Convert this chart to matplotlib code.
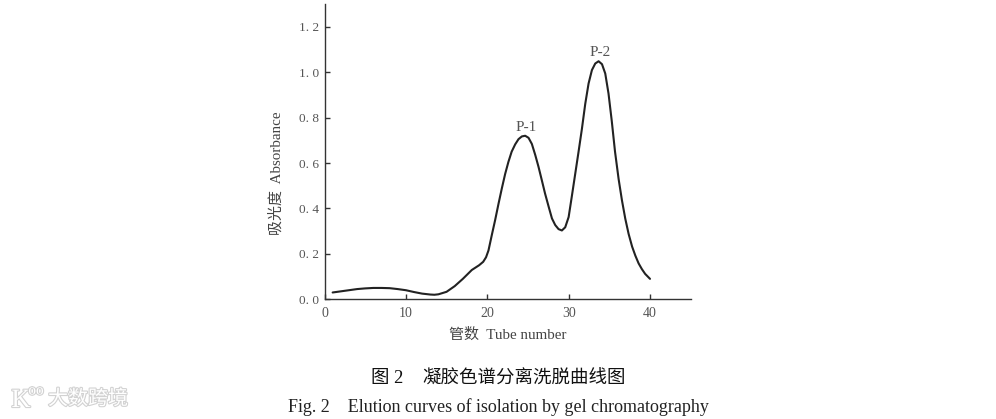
import matplotlib
matplotlib.use('Agg')
import matplotlib.pyplot as plt
import matplotlib.patheffects as pe

plt.rcParams['font.family'] = ['Liberation Serif', 'Noto Sans CJK SC', 'DejaVu Sans']

# curve
tube = [1, 2, 3, 4, 5, 6, 7, 8, 9, 10, 11, 12, 13, 13.5, 14, 15, 16, 17, 18.1, 19, 19.5,
        19.85, 20.15, 20.56, 20.97, 21.38, 21.79, 22.2, 22.6, 23.0, 23.43, 23.84, 24.25,
        24.66, 25.07, 25.48, 25.9, 26.3, 26.7, 27.1, 27.55, 27.95, 28.35, 28.76, 29.17,
        29.58, 30.0, 30.4, 30.8, 31.2, 31.63, 32.04, 32.45, 32.86, 33.27, 33.68, 34.1,
        34.5, 34.9, 35.3, 35.7, 36.14, 36.55, 36.96, 37.37, 37.8, 38.2, 38.6, 39.0, 39.4, 40]
absorb = [0.030, 0.035, 0.040, 0.045, 0.048, 0.050, 0.050, 0.049, 0.045, 0.040, 0.032,
          0.025, 0.021, 0.020, 0.022, 0.033, 0.058, 0.090, 0.129, 0.150, 0.165,
          0.185, 0.215, 0.283, 0.349, 0.420, 0.488, 0.552, 0.605, 0.650, 0.682, 0.705, 0.717,
          0.720, 0.711, 0.684, 0.635, 0.583, 0.525, 0.466, 0.407, 0.356, 0.327, 0.309, 0.303,
          0.317, 0.362, 0.455, 0.550, 0.645, 0.750, 0.860, 0.950, 1.009, 1.038, 1.048, 1.035,
          0.994, 0.906, 0.785, 0.650, 0.530, 0.436, 0.355, 0.288, 0.232, 0.192, 0.158, 0.133, 0.112, 0.090]
x_ticks = [0, 10, 20, 30, 40]
y_ticks = [0.0, 0.2, 0.4, 0.6, 0.8, 1.0, 1.2]
y_labels = ['0. 0', '0. 2', '0. 4', '0. 6', '0. 8', '1. 0', '1. 2']
peaks = ['P-1', 'P-2']
peak_x = [24.66, 33.68]
peak_y = [0.72, 1.048]

W, H = 996, 419
fig = plt.figure(figsize=(W / 100, H / 100), dpi=100)
ax = fig.add_axes([324.5 / W, (H - 299.3) / H, 366.2 / W, 295.3 / H])

ax.plot(tube, absorb, color='#222222', lw=1.5, solid_capstyle='round', solid_joinstyle='round')

ax.set_xlim(0, 45)
ax.set_ylim(0, 1.3)
ax.set_xticks(x_ticks)
ax.set_yticks(y_ticks)
ax.set_yticklabels(y_labels)
ax.tick_params(direction='in', length=3.8, width=1, color='#333333',
               labelsize=9.5, labelcolor='#555555', pad=4)
ax.tick_params(axis='x', labelsize=10, pad=5.5)
for side in ['top', 'right']:
    ax.spines[side].set_visible(False)
for side in ['left', 'bottom']:
    ax.spines[side].set_color('#333333')
    ax.spines[side].set_linewidth(1)

for name, px, py in zip(peaks, peak_x, peak_y):
    ax.annotate(name, (px, py), xytext=(1, 6), textcoords='offset points',
                ha='center', va='center', fontsize=11, color='#555555')

fig.text(507.7 / W, (H - 335) / H, '管数  Tube number', ha='center', va='center',
         fontsize=10.8, color='#444444')
fig.text(276 / W, (H - 173) / H, '吸光度  Absorbance', rotation=90, ha='center',
         va='center', fontsize=10.8, color='#444444')

fig.text(371 / W, (H - 378.7) / H, '图 2', ha='left', va='center', fontsize=13.3, color='#111111')
fig.text(422 / W, (H - 378.7) / H, '凝胶色谱分离洗脱曲线图', ha='left', va='center',
         fontsize=13.3, color='#111111')
fig.text(498.5 / W, (H - 407.5) / H, 'Fig. 2    Elution curves of isolation by gel chromatography',
         ha='center', va='center', fontsize=13, color='#222222')

# faint site watermark, bottom left
halo = [pe.withStroke(linewidth=1.6, foreground='#d2d2d2')]
fig.text(88 / W, (H - 400) / H, '大数跨境', ha='center', va='center', fontsize=14.4,
         color='white', path_effects=halo)
fig.text(21 / W, (H - 401) / H, 'K', ha='center', va='center', fontsize=19,
         color='white', path_effects=halo)
fig.text(36 / W, (H - 391) / H, 'oo', ha='center', va='center', fontsize=11,
         color='white', path_effects=halo)

fig.savefig('out.png', dpi=100, facecolor='white')
